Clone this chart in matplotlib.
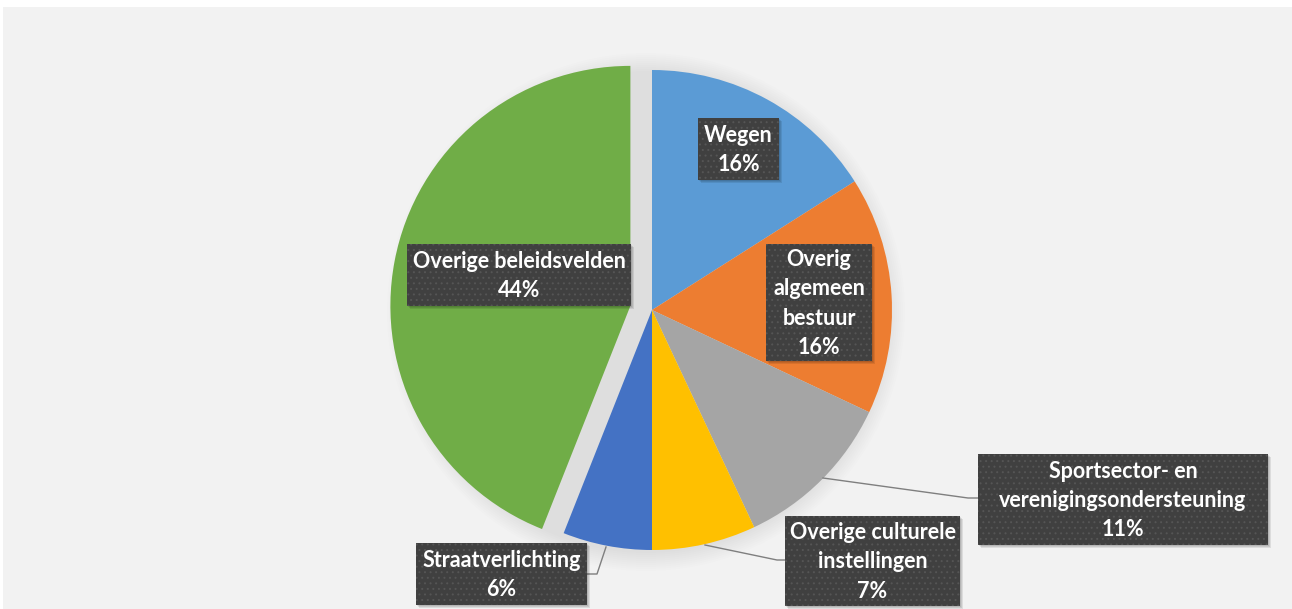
import matplotlib.pyplot as plt
from matplotlib.patches import Rectangle, Circle

# Data
labels = ["Wegen", "Overig\nalgemeen\nbestuur", "Sportsector- en\nverenigingsondersteuning",
          "Overige culturele\ninstellingen", "Straatverlichting", "Overige beleidsvelden"]
shares = [16, 16, 11, 7, 6, 44]
colors = ["#5B9BD5", "#ED7D31", "#A5A5A5", "#FFC000", "#4472C4", "#70AD47"]
explode = [0, 0, 0, 0, 0, 22]  # pie offsets are in data units (pixels here)

# label boxes (x0, y0, x1, y1 in pixels from top-left) and leader lines
label_box = [(698, 118, 779, 180), (766, 244, 872, 361), (978, 454, 1268, 545),
             (785, 516, 960, 606), (416, 543, 587, 605), (407, 244, 631, 306)]
leaders = {
    2: [(823, 478), (968, 498), (978, 498)],
    3: [(705, 545), (777, 560), (785, 560)],
    4: [(606, 547), (597, 574), (587, 574)],
}

W, H = 1292, 609
plt.rcParams["font.family"] = ["Lato", "DejaVu Sans"]
plt.rcParams["hatch.linewidth"] = 0.7

fig = plt.figure(figsize=(W / 100, H / 100), dpi=100)
fig.patch.set_facecolor("white")
ax = fig.add_axes([0, 0, 1, 1])

# chart area background
ax.add_patch(Rectangle((3, 0), W - 3, H - 7, fc="#F2F2F2", ec="none", zorder=0))

cx, cy, r = 652, H - 310, 240

# soft shadow around the pie
for k in range(10):
    ax.add_patch(Circle((cx - 6, cy - 2), r + 1 + k * 2.0, fc="black", ec="none",
                        alpha=0.009, zorder=1))

wedges, _ = ax.pie(shares, colors=colors, explode=explode, startangle=90,
                   counterclock=False, center=(cx, cy), radius=r,
                   wedgeprops=dict(linewidth=0, zorder=2), frame=True)
ax.set_xlim(0, W)
ax.set_ylim(0, H)
ax.set_aspect("equal")
ax.axis("off")

for i, pts in leaders.items():
    xs = [p[0] for p in pts]
    ys = [H - p[1] for p in pts]
    ax.plot(xs, ys, color="#7F7F7F", lw=1.0, zorder=3)

for i, (lab, s) in enumerate(zip(labels, shares)):
    x0, y0, x1, y1 = label_box[i]
    # shadow
    for k in range(3):
        ax.add_patch(Rectangle((x0 + 1 + k, H - y1 - 1 - k), x1 - x0, y1 - y0,
                               fc="black", ec="none", alpha=0.09, zorder=4))
    # dotted texture: hatch takes the edge colour, edge itself not drawn
    ax.add_patch(Rectangle((x0, H - y1), x1 - x0, y1 - y0, fc="#404040",
                           ec="#555555", lw=0, hatch="...", zorder=5))
    ax.text((x0 + x1) / 2, H - (y0 + y1) / 2 - 1, f"{lab}\n{s}%", ha="center",
            va="center", color="white", fontsize=15.5, fontweight="bold",
            linespacing=1.5, zorder=6)

fig.savefig("out.png", dpi=100, facecolor=fig.get_facecolor())
